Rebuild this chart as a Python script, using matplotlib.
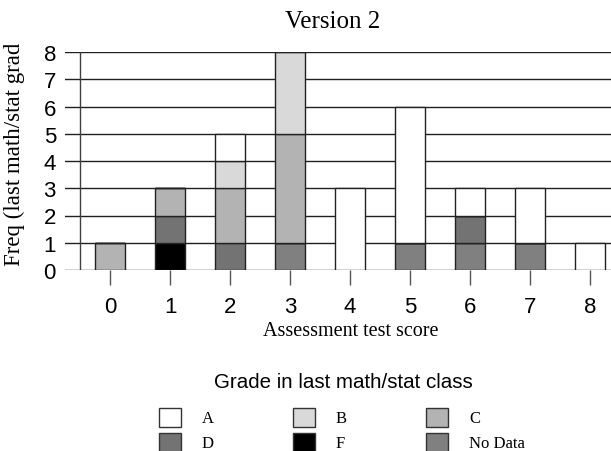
import numpy as np
import matplotlib
matplotlib.use("Agg")
import matplotlib.pyplot as plt
from matplotlib.patches import Rectangle

scores = [0, 1, 2, 3, 4, 5, 6, 7, 8]
# stacked bottom -> top
grades = ["No Data", "F", "D", "C", "B", "A"]
counts_nd = [0, 0, 0, 1, 0, 1, 1, 1, 0]
counts_f = [0, 1, 0, 0, 0, 0, 0, 0, 0]
counts_d = [0, 1, 1, 0, 0, 0, 1, 0, 0]
counts_c = [1, 1, 2, 4, 0, 0, 0, 0, 0]
counts_b = [0, 0, 1, 3, 0, 0, 0, 0, 0]
counts_a = [0, 0, 1, 0, 3, 5, 1, 2, 1]
colors = {"A": "#ffffff", "B": "#d9d9d9", "C": "#b3b3b3",
          "D": "#737373", "F": "#000000", "No Data": "#808080"}
legend_order = ["A", "B", "C", "D", "F", "No Data"]
yticks = list(range(9))

SANS = "Liberation Sans"
SERIF = "Liberation Serif"
W, H = 611, 452

fig = plt.figure(figsize=(W / 100, H / 100), dpi=100)
# axes deliberately runs past the right edge (the original is clipped there)
ax = fig.add_axes([65 / W, 1 - 271 / H, (637 - 65) / W, (271 - 53) / H])
ax.set_xlim(-0.75, 8.78)
ax.set_ylim(0, 8)

for y in yticks:
    ax.axhline(y, color="#202020", lw=1, zorder=1)
ax.vlines(-0.5, 0, 8, color="#404040", lw=1, zorder=1)

series = [counts_nd, counts_f, counts_d, counts_c, counts_b, counts_a]
bottom = np.zeros(len(scores))
for g, vals in zip(grades, series):
    vals = np.array(vals)
    ax.bar(scores, vals, width=0.5, bottom=bottom, color=colors[g],
           edgecolor="#222222", linewidth=1, zorder=2)
    bottom += vals

for s in ax.spines.values():
    s.set_visible(False)
ax.set_xticks(scores)
ax.set_yticks(yticks)
ax.tick_params(axis="x", length=11, width=1, color="#555555", pad=7.5,
               labelsize=16)
ax.tick_params(axis="y", length=0, pad=6.5, labelsize=16)
for lab in ax.get_xticklabels() + ax.get_yticklabels():
    lab.set_fontfamily(SANS)

fig.text(333 / W, 1 - 22 / H, "Version 2", family=SERIF, fontsize=18,
         ha="center", va="center")
fig.text(351 / W, 1 - 332 / H, "Assessment test score", family=SERIF,
         fontsize=14.5, ha="center", va="center")
fig.text(14 / W, 1 - 154 / H, "Freq (last math/stat grad", family=SERIF,
         fontsize=16.5, ha="center", va="center", rotation=90)

# legend drawn by hand
fig.text(343 / W, 1 - 383 / H, "Grade in last math/stat class", family=SANS,
         fontsize=14.8, ha="center", va="center")
col_x = [159, 293, 426]
row_y = [409, 434]
for i, g in enumerate(legend_order):
    x0 = col_x[i % 3]
    y0 = row_y[i // 3]
    fig.add_artist(Rectangle((x0 / W, 1 - (y0 + 19) / H), 22 / W, 19 / H,
                             transform=fig.transFigure, facecolor=colors[g],
                             edgecolor="#333333", lw=1))
    fig.text((x0 + 43) / W, 1 - (y0 + 10) / H, g, family=SERIF, fontsize=12,
             ha="left", va="center")

fig.savefig("out.png", dpi=100)
